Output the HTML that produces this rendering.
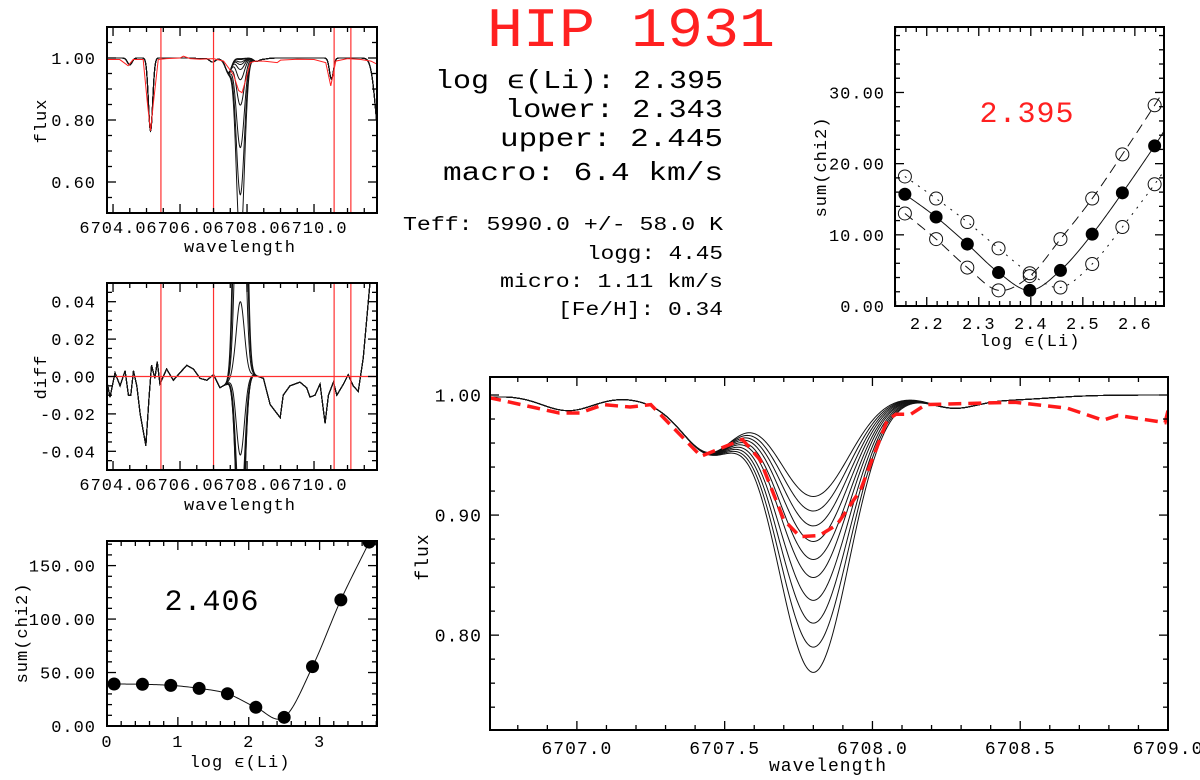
<!DOCTYPE html>
<html><head><meta charset="utf-8"><title>HIP 1931 Li fit</title>
<style>
html,body{margin:0;padding:0;background:#fff;}
svg{display:block;font-family:"Liberation Mono","DejaVu Sans Mono",monospace;}
</style></head>
<body>
<svg id="fig" width="1200" height="780" viewBox="0 0 1200 780" xmlns="http://www.w3.org/2000/svg">
<rect x="0" y="0" width="1200" height="780" fill="#fff"/>
<text x="487" y="46" font-size="56" fill="#ff2020" textLength="288" lengthAdjust="spacingAndGlyphs" font-family="Liberation Mono, monospace">HIP 1931</text>
<g fill="#000" font-family="Liberation Mono, monospace">
<text x="435" y="88" font-size="26" textLength="288" lengthAdjust="spacingAndGlyphs">log ϵ(Li): 2.395</text>
<text x="505" y="117" font-size="26" textLength="218" lengthAdjust="spacingAndGlyphs">lower: 2.343</text>
<text x="500" y="146" font-size="26" textLength="223" lengthAdjust="spacingAndGlyphs">upper: 2.445</text>
<text x="443" y="180" font-size="26" textLength="280" lengthAdjust="spacingAndGlyphs">macro: 6.4 km/s</text>
<text x="403" y="230" font-size="19" textLength="320" lengthAdjust="spacingAndGlyphs">Teff: 5990.0 +/- 58.0 K</text>
<text x="587" y="259" font-size="19" textLength="136" lengthAdjust="spacingAndGlyphs">logg: 4.45</text>
<text x="500" y="287" font-size="19" textLength="223" lengthAdjust="spacingAndGlyphs">micro: 1.11 km/s</text>
<text x="558" y="315" font-size="19" textLength="165" lengthAdjust="spacingAndGlyphs">[Fe/H]: 0.34</text>
</g>
</svg>
<script>
// ---------- data ----------
const liMinMain = [0.9155, 0.9034, 0.891, 0.878, 0.863, 0.848, 0.829, 0.810, 0.790, 0.769];
const liMinWide = [0.998, 0.995, 0.987, 0.979, 0.963, 0.930, 0.848, 0.711, 0.559, 0.40];
const liObsMin = 0.888;
const lineCenters = [6704.50, 6705.12, 6706.97, 6707.45, 6708.27, 6708.45, 6710.52, 6712.00, 6706.60, 6707.30];
const lineDepths  = [0.022,   0.235,   0.013,   0.045,   0.009,   0.004,   0.068,   0.30,    0.003,   0.006];
const lineSigmas  = [0.07,    0.064,   0.09,    0.09,    0.08,    0.15,    0.06,    0.15,    0.10,    0.10];
const obsMainWl = [6706.70,6706.94,6707.01,6707.09,6707.18,6707.25,6707.42,6707.56,6707.62,6707.70,6707.755,6707.82,6707.88,6707.96,6708.05,6708.08,6708.13,6708.18,6708.48,6708.66,6708.78,6708.83,6708.99,6709.00];
const obsMainFx = [0.998,0.985,0.985,0.992,0.990,0.992,0.949,0.963,0.946,0.896,0.882,0.883,0.892,0.921,0.979,0.984,0.984,0.992,0.994,0.989,0.979,0.983,0.977,0.987];
const obsWideWl = [6703.82,6704.2,6704.45,6704.6,6704.9,6705.03,6705.12,6705.2,6705.35,6705.6,6706.0,6706.1,6706.3,6706.6,6707.0,6707.3,6707.45,6707.6,6707.75,6707.85,6707.95,6708.1,6708.25,6708.5,6708.9,6709.0,6709.5,6710.0,6710.35,6710.5,6710.65,6711.0,6711.4,6711.7,6711.88];
const obsWideFx = [0.995,0.995,0.975,0.995,0.995,0.85,0.765,0.85,0.995,0.998,1.000,1.006,0.998,0.996,0.998,0.99,0.968,0.945,0.895,0.888,0.925,0.985,0.99,0.99,0.985,0.993,0.996,0.995,0.985,0.91,0.99,0.998,0.995,0.99,0.98];
const diffWl = [6703.81,6703.91,6704.06,6704.21,6704.36,6704.46,6704.53,6704.61,6704.71,6704.81,6704.98,6705.08,6705.15,6705.25,6705.32,6705.40,6705.60,6705.80,6706.00,6706.20,6706.40,6706.60,6706.80,6707.00,6707.19,6707.39,6707.59,6707.89,6708.19,6708.49,6708.69,6708.99,6709.08,6709.28,6709.58,6709.78,6709.88,6710.03,6710.18,6710.33,6710.43,6710.58,6710.68,6710.88,6711.02,6711.17,6711.32,6711.47,6711.67,6711.87];
const diffVal = [-0.002,-0.011,0.002,-0.005,0.003,-0.010,-0.010,0.003,-0.005,-0.020,-0.037,-0.010,0.006,-0.001,0.008,-0.004,0.004,-0.002,0.002,0.006,0.004,-0.001,-0.002,0.001,-0.006,-0.004,0.000,0.000,0.001,-0.001,-0.015,-0.022,-0.010,-0.005,-0.003,-0.006,-0.011,-0.010,-0.004,-0.025,-0.010,-0.003,-0.010,-0.004,0.001,-0.005,-0.008,0.010,0.050,0.080];
const fitRegion = [6705.43, 6707.0, 6710.6, 6711.1];
const chiAbund = [0.1, 0.5, 0.9, 1.3, 1.7, 2.1, 2.5, 2.9, 3.3, 3.7];
const chiVals  = [39.3, 39.0, 38.0, 35.2, 30.2, 17.5, 8.1, 55.5, 117.9, 172.0];
const fineAbund = [2.158, 2.218, 2.278, 2.338, 2.398, 2.457, 2.518, 2.576, 2.638];
const fineBest  = [15.7, 12.5, 8.7, 4.7, 2.2, 5.0, 10.1, 15.9, 22.5];
const fineLower = [13.0, 9.4, 5.4, 2.2, 4.2, 9.4, 15.1, 21.3, 28.2];
const fineUpper = [18.2, 15.1, 11.8, 8.1, 4.6, 2.6, 5.9, 11.1, 17.1];
const bestLabel = "2.395", coarseLabel = "2.406";

// ---------- helpers ----------
const NS = 'http://www.w3.org/2000/svg';
const svg = document.getElementById('fig');
function mk(tag, attrs, parent) {
  const e = document.createElementNS(NS, tag);
  for (const k in attrs) e.setAttribute(k, attrs[k]);
  (parent || svg).appendChild(e);
  return e;
}
let clipN = 0;
function panel(c) {
  const g = mk('g', {});
  
  
  const sx = v => c.x0 + (v - c.xmin) / (c.xmax - c.xmin) * (c.x1 - c.x0);
  const sy = v => c.y1 - (v - c.ymin) / (c.ymax - c.ymin) * (c.y1 - c.y0);
  const id = 'clip' + (clipN++);
  const cp = mk('clipPath', {id: id}, g);
  mk('rect', {x: c.x0, y: c.y0, width: c.x1 - c.x0, height: c.y1 - c.y0}, cp);
  const plot = mk('g', {'clip-path': 'url(#' + id + ')'}, g);
  
  
  const tk = mk('g', {stroke: '#000', 'stroke-width': 1.3}, g);
  
  
  const eps = 1e-6;
  for (let v = Math.ceil(c.xmin / c.xMinor - eps) * c.xMinor; v <= c.xmax + eps; v += c.xMinor) {
    const isMaj = c.xMaj.some(m => Math.abs(m - v) < c.xMinor / 3);
    const L = isMaj ? 9 : 5, X = sx(v);
    mk('line', {x1: X, x2: X, y1: c.y1, y2: c.y1 - L}, tk);
    mk('line', {x1: X, x2: X, y1: c.y0, y2: c.y0 + L}, tk);
  }
  for (let v = Math.ceil(c.ymin / c.yMinor - eps) * c.yMinor; v <= c.ymax + eps; v += c.yMinor) {
    const isMaj = c.yMaj.some(m => Math.abs(m - v) < c.yMinor / 3);
    const L = isMaj ? 9 : 5, Y = sy(v);
    mk('line', {x1: c.x0, x2: c.x0 + L, y1: Y, y2: Y}, tk);
    mk('line', {x1: c.x1, x2: c.x1 - L, y1: Y, y2: Y}, tk);
  }
  c.xMaj.forEach((v, i) => {
    const t = mk('text', {x: sx(v), y: c.y1 + c.xLabDy, 'font-size': c.fs, 'text-anchor': 'middle', 'letter-spacing': c.ls}, g);
    
    
    t.textContent = c.xLab[i];
  });
  c.yMaj.forEach((v, i) => {
    const t = mk('text', {x: c.x0 - c.yLabDx, y: sy(v) + c.fs * 0.35, 'font-size': c.fs, 'text-anchor': 'end', 'letter-spacing': c.ls}, g);
    
    
    t.textContent = c.yLab[i];
  });
  const xt = mk('text', {x: c.xtX, y: c.xtY, 'font-size': c.fs, 'text-anchor': 'middle', 'letter-spacing': c.ls}, g);
  
  
  xt.textContent = c.xTitle;
  const yt = mk('text', {x: 0, y: 0, 'font-size': c.fs, 'text-anchor': 'middle', 'letter-spacing': c.ls, transform: 'translate(' + c.ytX + ',' + c.ytY + ') rotate(-90)'}, g);
  
  
  yt.textContent = c.yTitle;
  return {g, plot, sx, sy, c};
}
function frame(P) {
  const c = P.c;
  const r = mk('rect', {x: c.x0, y: c.y0, width: c.x1 - c.x0, height: c.y1 - c.y0, fill: 'none', stroke: '#000', 'stroke-width': 2}, P.g);
  
  
}
function pts(P, xs, ys) { return xs.map((x, i) => P.sx(x).toFixed(2) + ',' + P.sy(ys[i]).toFixed(2)).join(' '); }
function gauss(l, c, s) { const z = (l - c) / s; return Math.exp(-0.5 * z * z); }
function baseFlux(l) {
  let f = 1;
  for (let i = 0; i < lineCenters.length; i++) f *= 1 - lineDepths[i] * gauss(l, lineCenters[i], lineSigmas[i]);
  return f;
}
function interp(xs, ys, x) {
  if (x <= xs[0]) return ys[0];
  for (let i = 1; i < xs.length; i++) if (x <= xs[i]) { const t = (x - xs[i - 1]) / (xs[i] - xs[i - 1]); return ys[i - 1] + t * (ys[i] - ys[i - 1]); }
  return ys[ys.length - 1];
}
function spline(xs, ys, xend) {
  const X = xs.slice(), Y = ys.slice();
  if (xend !== undefined && xend > X[X.length - 1]) {
    const n = X.length, s = (Y[n - 1] - Y[n - 2]) / (X[n - 1] - X[n - 2]);
    X.push(xend); Y.push(Y[n - 1] + s * (xend - X[n - 1]) * 1.1);
  }
  const ox = [], oy = [];
  for (let i = 0; i < X.length - 1; i++) {
    const i0 = Math.max(0, i - 1), i3 = Math.min(X.length - 1, i + 2);
    for (let k = 0; k <= 20; k++) {
      const t = k / 20, t2 = t * t, t3 = t2 * t;
      const f = (p0, p1, p2, p3) => 0.5 * (2 * p1 + (-p0 + p2) * t + (2 * p0 - 5 * p1 + 4 * p2 - p3) * t2 + (-p0 + 3 * p1 - 3 * p2 + p3) * t3);
      ox.push(f(X[i0], X[i], X[i + 1], X[i3])); oy.push(f(Y[i0], Y[i], Y[i + 1], Y[i3]));
    }
  }
  return [ox, oy];
}
const LI_C = 6707.80, LI_S_MAIN = 0.12, LI_S_WIDE = 0.12;
function model(l, fmin, s) {
  const b0 = baseFlux(LI_C);
  const d = 1 - fmin / b0;
  return baseFlux(l) * (1 - d * gauss(l, LI_C, s));
}

// ---------- panel 1: wide spectrum ----------
const P1 = panel({name: 'wide-spectrum-panel', x0: 107, x1: 377, y0: 27, y1: 213,
  xmin: 6703.82, xmax: 6711.88, ymin: 0.50, ymax: 1.10,
  xMaj: [6704, 6706, 6708, 6710], xLab: ['6704.0', '6706.0', '6708.0', '6710.0'], xMinor: 0.5,
  yMaj: [0.6, 0.8, 1.0], yLab: ['0.60', '0.80', '1.00'], yMinor: 0.05,
  fs: 17, ls: 1.0, xLabDy: 20, yLabDx: 11,
  xTitle: 'wavelength', xtX: 240, xtY: 252, yTitle: 'flux', ytX: 46, ytY: 121});
{
  const wl = []; for (let l = 6703.82; l <= 6711.9; l += 0.01) wl.push(l);
  liMinWide.forEach((m, k) => {
    const p = mk('polyline', {points: pts(P1, wl, wl.map(l => model(l, m, LI_S_WIDE))), fill: 'none', stroke: '#111', 'stroke-width': 1}, P1.plot);
    
    
  });
  const o = mk('polyline', {points: pts(P1, obsWideWl, obsWideFx), fill: 'none', stroke: '#ff2020', 'stroke-width': 1}, P1.plot);
  
  
  fitRegion.forEach(l => {
    const v = mk('line', {x1: P1.sx(l), x2: P1.sx(l), y1: 27, y2: 213, stroke: '#ff3030', 'stroke-width': 1.2}, P1.plot);
    
    
  });
  frame(P1);
}

// ---------- panel 2: residuals ----------
const P2 = panel({name: 'residual-panel', x0: 107, x1: 377, y0: 283, y1: 470,
  xmin: 6703.82, xmax: 6711.88, ymin: -0.05, ymax: 0.05,
  xMaj: [6704, 6706, 6708, 6710], xLab: ['6704.0', '6706.0', '6708.0', '6710.0'], xMinor: 0.5,
  yMaj: [-0.04, -0.02, 0, 0.02, 0.04], yLab: ['-0.04', '-0.02', '0.00', '0.02', '0.04'], yMinor: 0.005,
  fs: 17, ls: 1.0, xLabDy: 20, yLabDx: 11,
  xTitle: 'wavelength', xtX: 240, xtY: 510, yTitle: 'diff', ytX: 46, ytY: 377});
{
  const wl = []; for (let l = 6703.82; l <= 6711.9; l += 0.01) wl.push(l);
  const dObs = 1 - liObsMin / baseFlux(LI_C);
  liMinWide.forEach((m, k) => {
    const d = 1 - m / baseFlux(LI_C);
    const p = mk('polyline', {points: pts(P2, wl, wl.map(l => interp(diffWl, diffVal, l) + (d - dObs) * gauss(l, LI_C, LI_S_WIDE))), fill: 'none', stroke: '#111', 'stroke-width': 1}, P2.plot);
    
    
  });
  fitRegion.forEach(l => {
    const v = mk('line', {x1: P2.sx(l), x2: P2.sx(l), y1: 283, y2: 470, stroke: '#ff3030', 'stroke-width': 1.2}, P2.plot);
    
    
  });
  const z = mk('line', {x1: 107, x2: 377, y1: P2.sy(0), y2: P2.sy(0), stroke: '#ff3030', 'stroke-width': 1.2}, P2.plot);
  
  
  frame(P2);
}

// ---------- panel 3: coarse chi2 ----------
const P3 = panel({name: 'coarse-chi2-panel', x0: 107, x1: 377, y0: 541, y1: 726,
  xmin: 0, xmax: 3.81, ymin: 0, ymax: 173,
  xMaj: [0, 1, 2, 3], xLab: ['0', '1', '2', '3'], xMinor: 0.2,
  yMaj: [0, 50, 100, 150], yLab: ['0.00', '50.00', '100.00', '150.00'], yMinor: 10,
  fs: 17, ls: 1.0, xLabDy: 21, yLabDx: 11,
  xTitle: 'log ϵ(Li)', xtX: 240, xtY: 767, yTitle: 'sum(chi2)', ytX: 27, ytY: 633});
{
  const [sxs, sys] = spline(chiAbund, chiVals, 3.85);
  const p = mk('polyline', {points: pts(P3, sxs, sys), fill: 'none', stroke: '#111', 'stroke-width': 1}, P3.plot);
  
  
  chiAbund.forEach((a, i) => {
    const c = mk('circle', {cx: P3.sx(a), cy: P3.sy(chiVals[i]), r: 6.5, fill: '#000'}, P3.plot);
    
    
  });
  const t = mk('text', {x: 212, y: 610, 'font-size': 30, 'text-anchor': 'middle', 'letter-spacing': 1}, P3.g);
  
  
  t.textContent = coarseLabel;
  frame(P3);
}

// ---------- panel 4: fine chi2 ----------
const P4 = panel({name: 'fine-chi2-panel', x0: 895, x1: 1164, y0: 27, y1: 306,
  xmin: 2.139, xmax: 2.656, ymin: 0, ymax: 39.2,
  xMaj: [2.2, 2.3, 2.4, 2.5, 2.6], xLab: ['2.2', '2.3', '2.4', '2.5', '2.6'], xMinor: 0.02,
  yMaj: [0, 10, 20, 30], yLab: ['0.00', '10.00', '20.00', '30.00'], yMinor: 2,
  fs: 17, ls: 1.0, xLabDy: 23, yLabDx: 10,
  xTitle: 'log ϵ(Li)', xtX: 1030, xtY: 346, yTitle: 'sum(chi2)', ytX: 826, ytY: 167});
{
  const sets = [[fineBest, 'none', 'best'], [fineLower, '10,6', 'lower'], [fineUpper, '2,6', 'upper']];
  sets.forEach(([vals, dash, nm]) => {
    const [sxs, sys] = spline(fineAbund, vals, 2.66);
    const p = mk('polyline', {points: pts(P4, sxs, sys), fill: 'none', stroke: '#111', 'stroke-width': 1, 'stroke-dasharray': dash}, P4.plot);
    
    
  });
  [fineLower, fineUpper].forEach(vals => fineAbund.forEach((a, i) => {
    const c = mk('circle', {cx: P4.sx(a), cy: P4.sy(vals[i]), r: 6.5, fill: 'none', stroke: '#111', 'stroke-width': 1}, P4.plot);
    
    
  }));
  fineAbund.forEach((a, i) => {
    const c = mk('circle', {cx: P4.sx(a), cy: P4.sy(fineBest[i]), r: 6.5, fill: '#000'}, P4.plot);
    
    
  });
  const t = mk('text', {x: 1027, y: 122, 'font-size': 30, 'text-anchor': 'middle', fill: '#ff2020', 'letter-spacing': 1}, P4.g);
  
  
  t.textContent = bestLabel;
  frame(P4);
}

// ---------- panel 5: main zoomed spectrum ----------
const P5 = panel({name: 'li-line-panel', x0: 490, x1: 1168, y0: 377, y1: 730,
  xmin: 6706.706, xmax: 6709.0, ymin: 0.721, ymax: 1.015,
  xMaj: [6707.0, 6707.5, 6708.0, 6708.5, 6709.0], xLab: ['6707.0', '6707.5', '6708.0', '6708.5', '6709.0'], xMinor: 0.1,
  yMaj: [0.8, 0.9, 1.0], yLab: ['0.80', '0.90', '1.00'], yMinor: 0.02,
  fs: 18, ls: 1.0, xLabDy: 24, yLabDx: 8,
  xTitle: 'wavelength', xtX: 828, xtY: 771, yTitle: 'flux', ytX: 428, ytY: 557});
{
  const wl = []; for (let l = 6706.7; l <= 6709.01; l += 0.004) wl.push(l);
  liMinMain.forEach((m, k) => {
    const p = mk('polyline', {points: pts(P5, wl, wl.map(l => model(l, m, LI_S_MAIN))), fill: 'none', stroke: '#111', 'stroke-width': 1}, P5.plot);
    
    
  });
  const o = mk('polyline', {points: pts(P5, obsMainWl, obsMainFx), fill: 'none', stroke: '#ff1a1a', 'stroke-width': 3.5, 'stroke-dasharray': '13,7'}, P5.plot);
  
  
  frame(P5);
}
</script>
</body></html>
